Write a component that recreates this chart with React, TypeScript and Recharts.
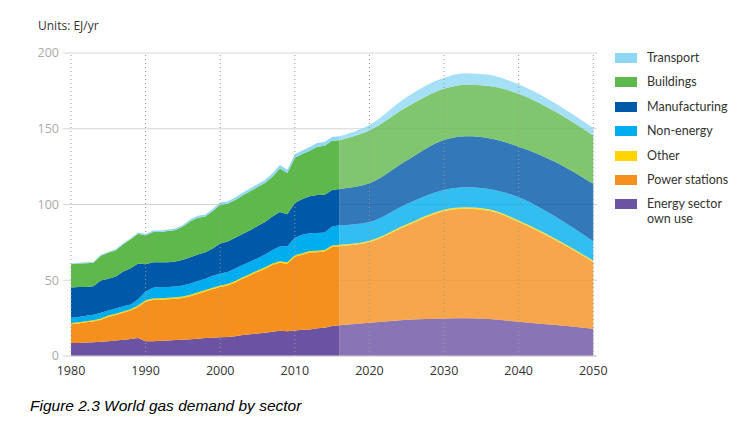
import React from "react";
import {
  Area,
  AreaChart,
  CartesianGrid,
  ReferenceLine,
  XAxis,
  YAxis,
} from "recharts";

// historical years (annual) and projection years
const histYears = [
  1980, 1981, 1982, 1983, 1984, 1985, 1986, 1987, 1988, 1989, 1990, 1991, 1992,
  1993, 1994, 1995, 1996, 1997, 1998, 1999, 2000, 2001, 2002, 2003, 2004, 2005,
  2006, 2007, 2008, 2009, 2010, 2011, 2012, 2013, 2014, 2015, 2016,
];
const projYears = [2016, 2020, 2025, 2030, 2033, 2036, 2040, 2045, 2050];

// EJ/yr per sector, historical
const histEnergy = [
  8.5, 8.6, 8.9, 9.0, 9.4, 9.8, 10.3, 10.8, 11.3, 11.8, 9.8, 9.8, 10.0, 10.3,
  10.5, 10.8, 11.0, 11.4, 11.8, 12.0, 12.3, 12.6, 13.0, 13.8, 14.3, 14.8, 15.3,
  16.0, 16.6, 16.3, 16.9, 17.3, 17.5, 18.3, 18.6, 19.8, 20.3,
];
const histPower = [
  12.5, 12.9, 13.3, 13.8, 14.6, 16.0, 16.7, 17.7, 18.7, 20.7, 26.0, 27.2, 27.2,
  27.2, 27.3, 27.5, 28.5, 29.6, 30.7, 32.0, 33.2, 33.9, 35.5, 37.2, 38.9, 40.7,
  42.2, 44.0, 44.9, 44.5, 48.6, 49.5, 50.8, 50.2, 50.3, 52.2, 52.2,
];
const histOther = [
  0.8, 0.8, 0.8, 0.8, 0.8, 0.9, 0.9, 0.9, 0.9, 0.9, 1.0, 1.0, 1.0, 1.0, 1.0,
  1.0, 1.0, 1.0, 1.0, 1.0, 1.0, 1.0, 1.0, 1.0, 1.0, 1.0, 1.0, 1.0, 1.0, 1.0,
  1.0, 1.0, 1.0, 1.0, 1.0, 1.0, 0.9,
];
const histNonEnergy = [
  3.5, 3.5, 3.5, 3.6, 3.7, 3.3, 3.4, 3.4, 3.1, 4.1, 5.7, 7.0, 7.3, 7.1, 7.0,
  7.2, 7.3, 7.5, 7.5, 8.0, 8.0, 8.0, 8.3, 8.0, 8.0, 8.0, 8.5, 9.0, 9.7, 10.7,
  11.5, 12.2, 11.7, 11.7, 11.6, 12.5, 12.9,
];
const histManufacturing = [
  19.9, 19.7, 19.1, 18.8, 21.3, 21.0, 21.2, 23.0, 24.0, 23.5, 18.0, 16.8, 16.4,
  16.2, 16.5, 17.0, 17.4, 17.5, 17.5, 18.0, 19.8, 20.0, 20.2, 20.5, 20.8, 21.3,
  21.5, 22.0, 22.8, 21.0, 23.0, 23.7, 24.5, 25.0, 25.0, 24.0, 24.0,
];
const histBuildings = [
  15.4, 15.6, 15.7, 15.5, 16.4, 17.2, 17.3, 18.0, 19.0, 19.7, 19.1, 20.1, 19.9,
  20.7, 20.8, 21.9, 23.8, 24.3, 23.6, 24.7, 25.6, 25.0, 25.0, 25.5, 25.7, 25.7,
  25.7, 26.3, 28.8, 27.3, 29.8, 29.7, 30.0, 32.0, 32.2, 32.5, 32.1,
];
const histTransport = [
  0.4, 0.4, 0.5, 0.5, 0.6, 0.6, 0.7, 0.7, 0.8, 0.8, 0.9, 0.9, 1.0, 1.0, 1.1,
  1.1, 1.2, 1.2, 1.3, 1.3, 1.4, 1.5, 1.6, 1.7, 1.8, 1.9, 2.0, 2.1, 2.2, 2.2,
  2.3, 2.3, 2.4, 2.4, 2.5, 2.5, 2.6,
];

// EJ/yr per sector, projection
const projEnergy = [20.3, 22.0, 24.0, 24.8, 25.0, 24.4, 22.6, 20.4, 18.0];
const projPower = [52.2, 53.2, 62.0, 70.8, 72.2, 71.4, 65.8, 55.9, 44.0];
const projOther = [0.9, 0.9, 1.0, 1.0, 1.0, 1.0, 1.0, 0.9, 0.9];
const projNonEnergy = [12.9, 12.4, 13.4, 13.0, 13.2, 13.4, 15.4, 14.5, 12.8];
const projManufacturing = [24.0, 25.5, 28.6, 32.9, 33.6, 33.6, 33.4, 36.2, 37.9];
const projBuildings = [32.1, 34.8, 35.3, 33.9, 34.0, 34.4, 34.9, 33.1, 32.0];
const projTransport = [2.6, 3.6, 6.6, 7.3, 7.7, 7.4, 6.2, 5.5, 4.9];

const xTicks = [1980, 1990, 2000, 2010, 2020, 2030, 2040, 2050];
const yTicks = [0, 50, 100, 150, 200];

// bottom of the stack first
const sectors = [
  { key: "energy", name: "Energy sector own use", color: "#6b52a3", hist: histEnergy, proj: projEnergy },
  { key: "power", name: "Power stations", color: "#f5901e", hist: histPower, proj: projPower },
  { key: "other", name: "Other", color: "#ffd400", hist: histOther, proj: projOther },
  { key: "nonEnergy", name: "Non-energy", color: "#00aeef", hist: histNonEnergy, proj: projNonEnergy },
  { key: "manufacturing", name: "Manufacturing", color: "#0058a8", hist: histManufacturing, proj: projManufacturing },
  { key: "buildings", name: "Buildings", color: "#5fb84b", hist: histBuildings, proj: projBuildings },
  { key: "transport", name: "Transport", color: "#8fd8f5", hist: histTransport, proj: projTransport },
];

const buildRows = () => {
  const rows: Record<number, any> = {};
  histYears.forEach((y, i) => {
    rows[y] = rows[y] || { year: y };
    sectors.forEach((s) => (rows[y]["h_" + s.key] = s.hist[i]));
  });
  projYears.forEach((y, i) => {
    rows[y] = rows[y] || { year: y };
    sectors.forEach((s) => (rows[y]["p_" + s.key] = s.proj[i]));
  });
  return Object.values(rows).sort((a, b) => a.year - b.year);
};

const data = buildRows();

const font = "'Open Sans', 'DejaVu Sans', sans-serif";

const Legend = () => (
  <div style={{ position: "absolute", left: 615, top: 50, fontFamily: "Lato, sans-serif", fontSize: 12.5, color: "#333" }}>
    {[...sectors].reverse().map((s) => (
      <div key={s.key} style={{ display: "flex", alignItems: "flex-start", height: 24.4 }}>
        <div style={{ width: 22, height: 10, background: s.color, marginTop: 3, marginRight: 10, flexShrink: 0 }} />
        <div style={{ lineHeight: "15px", width: 90 }}>
          {s.name === "Energy sector own use" ? (
            <>
              Energy sector
              <br />
              own use
            </>
          ) : (
            s.name
          )}
        </div>
      </div>
    ))}
  </div>
);

export default function App() {
  return (
    <div style={{ position: "absolute", left: 0, top: 0, width: 749, height: 426, background: "#fff", fontFamily: font }}>
      <div style={{ position: "absolute", left: 38, top: 17, fontSize: 12, color: "#333" }}>Units: EJ/yr</div>
      <AreaChart
        width={610}
        height={390}
        data={data}
        margin={{ top: 53, right: 13, left: 0, bottom: 4 }}
      >
        <CartesianGrid vertical={false} stroke="#d6d6d6" />
        <XAxis
          dataKey="year"
          type="number"
          domain={[1980, 2050.5]}
          ticks={xTicks}
          tickLine={false}
          tickMargin={4}
          axisLine={{ stroke: "#d0d0d0" }}
          tick={{ fill: "#333", fontSize: 12.5, fontFamily: font }}
          height={30}
        />
        <YAxis
          type="number"
          domain={[0, 200]}
          ticks={yTicks}
          width={71}
          axisLine={false}
          tickSize={8}
          tickMargin={4}
          tickLine={{ stroke: "#d6d6d6" }}
          tick={{ fill: "#aaa", fontSize: 12.5, fontFamily: font }}
        />
        {sectors.map((s) => (
          <Area
            key={"h_" + s.key}
            dataKey={"h_" + s.key}
            name={s.name}
            stackId="h"
            type="linear"
            fill={s.color}
            fillOpacity={1}
            stroke="none"
            isAnimationActive={false}
          />
        ))}
        {sectors.map((s) => (
          <Area
            key={"p_" + s.key}
            dataKey={"p_" + s.key}
            name={s.name}
            stackId="p"
            type="monotone"
            fill={s.color}
            fillOpacity={0.8}
            stroke="none"
            isAnimationActive={false}
          />
        ))}
        {xTicks.map((t) => (
          <ReferenceLine key={t} x={t} stroke="#9a9a9a" strokeDasharray="1 3" />
        ))}
      </AreaChart>
      <Legend />
      <div
        style={{
          position: "absolute",
          left: 30,
          top: 397,
          fontFamily: "'Liberation Sans', Arial, sans-serif",
          fontStyle: "italic",
          fontSize: 15.5,
          color: "#000",
        }}
      >
        Figure 2.3 World gas demand by sector
      </div>
    </div>
  );
}
